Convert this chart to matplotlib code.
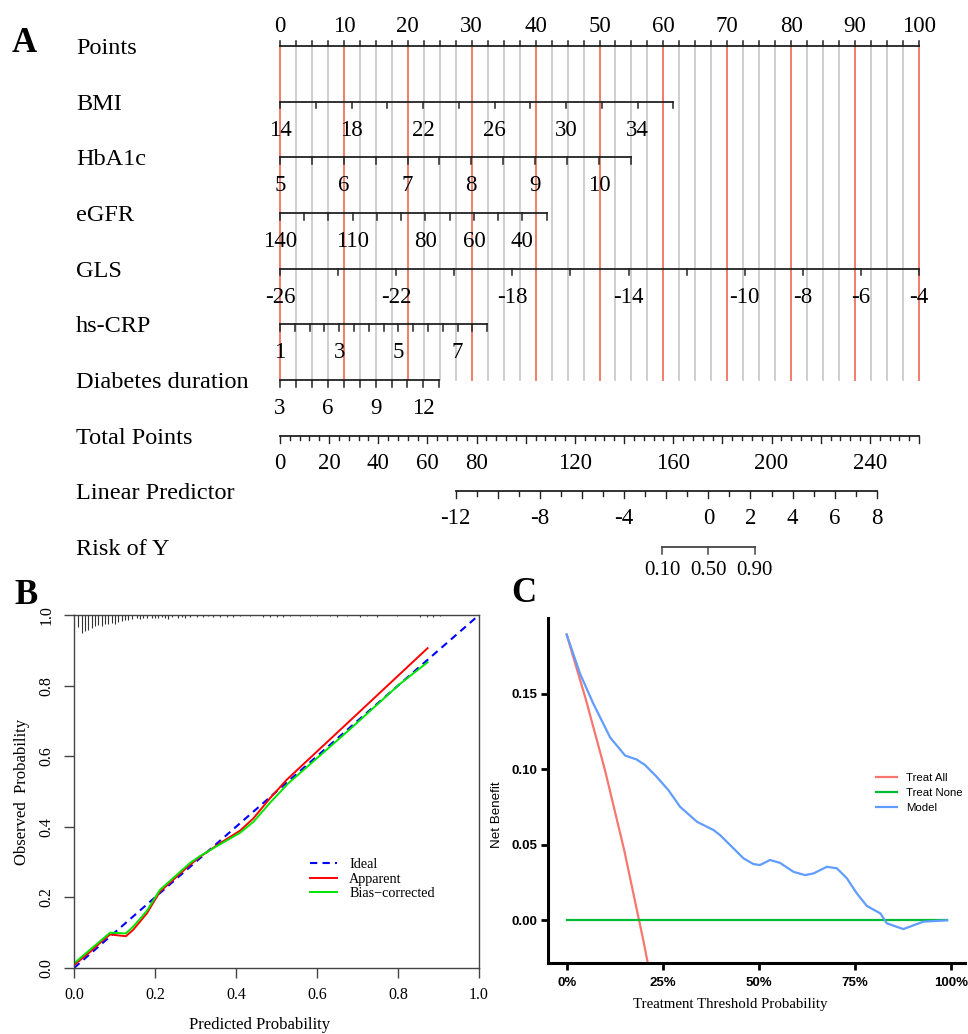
import numpy as np
import matplotlib.pyplot as plt

plt.rcParams['font.family'] = ['Liberation Serif', 'DejaVu Serif']

W, H = 968, 1034

# ---------------- Panel A: nomogram data ----------------
row_names = ["Points", "BMI", "HbA1c", "eGFR", "GLS", "hs-CRP",
             "Diabetes duration", "Total Points", "Linear Predictor", "Risk of Y"]

# predictor scales: (first value, last value), tick step, labelled values,
# nomogram points per unit of the predictor
bmi_lim = (14, 36)
bmi_step = 2
bmi_labels = [14, 18, 22, 26, 30, 34]
bmi_pts = 2.798

hba1c_lim = (5, 10.5)
hba1c_step = 0.5
hba1c_labels = [5, 6, 7, 8, 9, 10]
hba1c_pts = 9.98

egfr_lim = (140, 30)
egfr_step = -10
egfr_labels = [140, 110, 80, 60, 40]
egfr_pts = -0.3794

gls_lim = (-26, -4)
gls_step = 2
gls_labels = [-26, -22, -18, -14, -10, -8, -6, -4]
gls_pts = 4.545

crp_lim = (1, 8)
crp_step = 0.5
crp_labels = [1, 3, 5, 7]
crp_pts = 4.634

dur_lim = (3, 13)
dur_step = 1
dur_labels = [3, 6, 9, 12]
dur_pts = 2.493

total_max = 260
total_labels = [0, 20, 40, 60, 80, 120, 160, 200, 240]
lp_lim = (-12, 8)
lp_labels = [-12, -8, -4, 0, 2, 4, 6, 8]
lp_zero_total = 174.3      # total points where the linear predictor is 0
lp_total_per_unit = 8.565  # total points per unit of linear predictor
risk_labels = [0.10, 0.50, 0.90]

# ---------------- Panel B: calibration data ----------------
rug_x = [0.011, 0.019, 0.027, 0.035, 0.044, 0.052, 0.060, 0.068, 0.077, 0.085,
         0.093, 0.101, 0.109, 0.118, 0.126, 0.134, 0.142, 0.155, 0.163, 0.171,
         0.180, 0.192, 0.200, 0.208, 0.217, 0.225, 0.233, 0.241, 0.258, 0.266,
         0.274, 0.286, 0.303, 0.319, 0.332, 0.344, 0.360, 0.377, 0.393, 0.410,
         0.434, 0.467, 0.484, 0.500, 0.517, 0.533, 0.558, 0.583, 0.600, 0.632,
         0.649, 0.673, 0.706, 0.723, 0.747, 0.797, 0.854, 0.871, 0.887, 0.904]
rug_h = [0.034, 0.051, 0.045, 0.042, 0.037, 0.031, 0.028, 0.031, 0.025, 0.025,
         0.023, 0.025, 0.020, 0.017, 0.014, 0.014, 0.011, 0.008, 0.011, 0.008,
         0.008, 0.008, 0.008, 0.008, 0.006, 0.008, 0.011, 0.006, 0.008, 0.006,
         0.008, 0.006, 0.006, 0.006, 0.003, 0.006, 0.006, 0.006, 0.006, 0.003,
         0.003, 0.006, 0.006, 0.006, 0.006, 0.003, 0.003, 0.003, 0.003, 0.003,
         0.006, 0.003, 0.006, 0.003, 0.006, 0.003, 0.006, 0.006, 0.006, 0.003]

app_x = [0.0, 0.040, 0.072, 0.089, 0.128, 0.146, 0.180, 0.212, 0.249, 0.286,
         0.311, 0.360, 0.410, 0.443, 0.484, 0.525, 0.680, 0.873]
app_y = [0.008, 0.046, 0.079, 0.095, 0.090, 0.108, 0.155, 0.216, 0.254, 0.292,
         0.315, 0.353, 0.389, 0.424, 0.481, 0.533, 0.699, 0.906]
bc_x = [0.0, 0.089, 0.128, 0.146, 0.180, 0.212, 0.286, 0.311, 0.360, 0.410,
        0.443, 0.484, 0.529, 0.680, 0.805, 0.873]
bc_y = [0.013, 0.100, 0.098, 0.117, 0.162, 0.221, 0.297, 0.317, 0.350, 0.383,
        0.414, 0.468, 0.523, 0.675, 0.805, 0.866]

# ---------------- Panel C: decision curve data ----------------
all_x = [0.0, 0.05, 0.10, 0.15, 0.20, 0.22]
all_y = [0.189, 0.146, 0.099, 0.046, -0.014, -0.040]
none_x = [0.0, 0.99]
none_y = [0.0, 0.0]
model_x = [0.0, 0.035, 0.069, 0.113, 0.152, 0.182, 0.204, 0.234, 0.265, 0.295,
           0.339, 0.382, 0.399, 0.434, 0.460, 0.486, 0.503, 0.529, 0.555, 0.590,
           0.620, 0.642, 0.677, 0.703, 0.729, 0.755, 0.781, 0.816, 0.833, 0.876,
           0.928, 0.990]
model_y = [0.189, 0.163, 0.1435, 0.121, 0.109, 0.1064, 0.1027, 0.095, 0.086, 0.0751,
           0.0652, 0.0597, 0.0564, 0.0476, 0.041, 0.0372, 0.0366, 0.0399, 0.038, 0.0321,
           0.0299, 0.031, 0.0354, 0.0344, 0.0278, 0.0178, 0.0095, 0.0046, -0.002, -0.0058,
           -0.0009, 0.0]

fig = plt.figure(figsize=(W / 100, H / 100), dpi=100)

# ---------------- Panel A ----------------
px_per_pt = 6.39
row_px = 55.67
top_h = 590
axA = fig.add_axes([0, 1 - top_h / H, 1, top_h / H])
axA.set_xlim(-280 / px_per_pt, (W - 280) / px_per_pt)
axA.set_ylim((top_h - 46) / row_px, -46 / row_px)
axA.axis('off')


def ry(px):
    return px / row_px


axis_col = '#222222'
lab_fs = 16.5

# reference lines
for p in np.arange(0, 100.01, 2.5):
    red = abs(p % 10) < 1e-6
    axA.plot([p, p], [0, 6], color='#f0725f' if red else '#cccccc',
             lw=1.3, zorder=1)

# Points scale
axA.plot([0, 100], [0, 0], color=axis_col, lw=1.3, zorder=3)
for p in np.arange(0, 100.01, 2.5):
    axA.plot([p, p], [0, -ry(5)], color=axis_col, lw=1.1, zorder=3)
for p in range(0, 101, 10):
    axA.text(p, -ry(14.3), str(p), ha='center', va='baseline', fontsize=lab_fs)

predictors = [
    (bmi_lim, bmi_step, bmi_labels, bmi_pts),
    (hba1c_lim, hba1c_step, hba1c_labels, hba1c_pts),
    (egfr_lim, egfr_step, egfr_labels, egfr_pts),
    (gls_lim, gls_step, gls_labels, gls_pts),
    (crp_lim, crp_step, crp_labels, crp_pts),
    (dur_lim, dur_step, dur_labels, dur_pts),
]
for i, (lim, step, labels, per_unit) in enumerate(predictors, start=1):
    x_end = (lim[1] - lim[0]) * per_unit
    axA.plot([0, x_end], [i, i], color=axis_col, lw=1.3, zorder=3)
    for t in np.arange(lim[0], lim[1] + step / 2, step):
        x = (t - lim[0]) * per_unit
        axA.plot([x, x], [i, i + ry(6.7)], color=axis_col, lw=1.1, zorder=3)
    for v in labels:
        x = (v - lim[0]) * per_unit
        axA.text(x, i + ry(34), str(v), ha='center', va='baseline', fontsize=lab_fs)

# Total points
r = 7
axA.plot([0, 100], [r, r], color=axis_col, lw=1.3)
for t in range(0, total_max + 1, 4):
    x = t * 100 / total_max
    ln = 7 if t % 20 == 0 else 4.5
    axA.plot([x, x], [r, r + ry(ln)], color=axis_col, lw=1.0)
for t in total_labels:
    axA.text(t * 100 / total_max, r + ry(33.3), str(t), ha='center',
             va='baseline', fontsize=lab_fs)


def lp_to_x(lp):
    return (lp_zero_total + lp * lp_total_per_unit) * 100 / total_max


# Linear predictor
r = 8
axA.plot([lp_to_x(lp_lim[0]), lp_to_x(lp_lim[1])], [r, r], color=axis_col, lw=1.3)
for t in range(lp_lim[0], lp_lim[1] + 1):
    ln = 7 if t % 2 == 0 else 4.5
    axA.plot([lp_to_x(t)] * 2, [r, r + ry(ln)], color=axis_col, lw=1.0)
for t in lp_labels:
    axA.text(lp_to_x(t), r + ry(33), str(t), ha='center', va='baseline',
             fontsize=lab_fs)

# Risk
r = 9
risk_x = [lp_to_x(np.log(p / (1 - p))) for p in risk_labels]
axA.plot([risk_x[0], risk_x[-1]], [r, r], color='#444444', lw=1.3)
for x, p in zip(risk_x, risk_labels):
    axA.plot([x, x], [r, r + ry(7)], color='#444444', lw=1.1)
    axA.text(x, r + ry(28), f"{p:.2f}", ha='center', va='baseline', fontsize=15)

for i, name in enumerate(row_names):
    axA.text(-31.92, i + ry(8), name, ha='left', va='baseline', fontsize=17.5)

# ---------------- Panel B ----------------
axB = fig.add_axes([74 / W, 1 - 968 / H, 405 / W, 353 / H])
axB.vlines(rug_x, [1 - h for h in rug_h], 1, color='#333333', lw=0.8)
axB.plot([0, 1], [0, 1], color='#0000ff', lw=1.5, ls=(0, (3.5, 2.5)), label='Ideal')
axB.plot(app_x, app_y, color='#ff0000', lw=1.4, label='Apparent')
axB.plot(bc_x, bc_y, color='#00e600', lw=1.4, label='Bias\u2212corrected')
axB.set_xlim(0, 1)
axB.set_ylim(0, 1)
ticks = [0, 0.2, 0.4, 0.6, 0.8, 1.0]
axB.set_xticks(ticks)
axB.set_xticklabels([f"{t:.1f}" for t in ticks])
axB.set_yticks(ticks)
axB.set_yticklabels([f"{t:.1f}" for t in ticks], rotation=90, va='center')
axB.tick_params(direction='out', length=7, width=1, labelsize=11.5,
                color='#444444', pad=7)
for s in axB.spines.values():
    s.set_color('#444444')
    s.set_linewidth(1)
axB.set_xlabel("Predicted Probability", fontsize=12)
axB.set_ylabel("Observed  Probability", fontsize=12)
axB.xaxis.set_label_coords(0.459, -0.14)
axB.yaxis.set_label_coords(-0.108, 0.5)
axB.legend(loc='center left', bbox_to_anchor=(0.583, 0.252), frameon=False,
           fontsize=10.2, handlelength=1.9, handletextpad=0.85,
           labelspacing=0.1, borderpad=0, borderaxespad=0)

# ---------------- Panel C ----------------
sans = ['Liberation Sans', 'DejaVu Sans']
axC = fig.add_axes([547.7 / W, 1 - 963.3 / H, 417.3 / W, 345.3 / H])
axC.plot(all_x, all_y, color='#F8766D', lw=1.6, label='Treat All')
axC.plot(none_x, none_y, color='#00BA38', lw=1.6, label='Treat None')
axC.plot(model_x, model_y, color='#619CFF', lw=1.6, label='Model')
axC.set_xlim(-0.0494, 1.0364)
axC.set_ylim(-0.02844, 0.2)
axC.spines['top'].set_visible(False)
axC.spines['right'].set_visible(False)
for s in ('left', 'bottom'):
    axC.spines[s].set_linewidth(2.2)
    axC.spines[s].set_color('black')
xt = [0, 0.25, 0.5, 0.75, 1.0]
axC.set_xticks(xt)
axC.set_xticklabels(["0%", "25%", "50%", "75%", "100%"])
yt = [0, 0.05, 0.10, 0.15]
axC.set_yticks(yt)
axC.set_yticklabels([f"{t:.2f}" for t in yt])
axC.tick_params(direction='out', length=5, width=2, labelsize=9.5)
axC.tick_params(axis='x', pad=5)
axC.tick_params(axis='y', pad=2.5)
for lab in axC.get_xticklabels() + axC.get_yticklabels():
    lab.set_family(sans)
    lab.set_fontweight('bold')
axC.set_xlabel("Treatment Threshold Probability", fontsize=10.7)
axC.xaxis.set_label_coords(0.437, -0.101)
axC.set_ylabel("Net Benefit", fontsize=9.6, family=sans)
axC.yaxis.set_label_coords(-0.107, 0.43)
axC.legend(loc='center left', bbox_to_anchor=(0.786, 0.494), frameon=False,
           prop={'family': sans, 'size': 8.2}, handlelength=1.86,
           handletextpad=0.8, labelspacing=0.45, borderpad=0, borderaxespad=0)

# panel letters
for letter, (x, y) in zip("ABC", [(24, 43), (26, 595), (524, 594)]):
    fig.text(x / W, 1 - y / H, letter, ha='center', va='center',
             fontsize=25, fontweight='bold')

fig.savefig("out.png", dpi=100)
